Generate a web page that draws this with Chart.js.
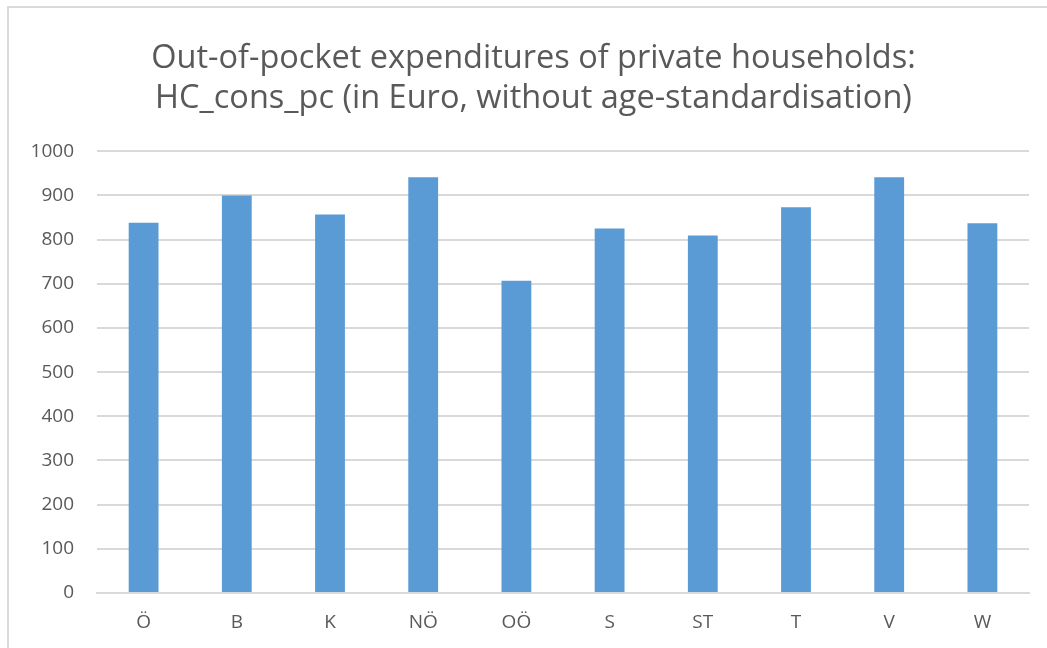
<!DOCTYPE html>
<html>
<head>
<meta charset="utf-8">
<script src="https://cdn.jsdelivr.net/npm/chart.js@4"></script>
<style>
  html, body { margin: 0; padding: 0; background: #fff; overflow: hidden; }
  #wrap { position: relative; width: 1047px; height: 648px; }
  #frame {
    position: absolute; left: 7px; top: 6px; width: 1100px; height: 700px;
    border-left: 2px solid #d9d9d9; border-top: 2px solid #d9d9d9;
  }
  canvas { position: absolute; left: 0; top: 0; }
</style>
</head>
<body>
<div id="wrap">
  <div id="frame"></div>
  <canvas id="chart" width="1047" height="648"></canvas>
</div>
<script>
const titleLines = [
  "Out-of-pocket expenditures of private households:",
  "HC_cons_pc (in Euro, without age-standardisation)",
];
const regions = ["Ö", "B", "K", "NÖ", "OÖ", "S", "ST", "T", "V", "W"];
const spending = [838, 900, 857, 941, 707, 825, 809, 873, 941, 837];
const yTicks = [0, 100, 200, 300, 400, 500, 600, 700, 800, 900, 1000];

const fontFamily = "'Open Sans', 'DejaVu Sans', sans-serif";
const textColor = "#595959";

// title sits a bit right of the canvas centre in the original
const nudgeTitle = {
  id: "nudgeTitle",
  afterLayout(chart) {
    if (chart.titleBlock) chart.titleBlock.left += 20;
  },
};

new Chart(document.getElementById("chart"), {
  type: "bar",
  plugins: [nudgeTitle],
  data: {
    labels: regions,
    datasets: [{
      label: "HC_cons_pc",
      data: spending,
      backgroundColor: "#5b9bd5",
      borderWidth: 0,
      barPercentage: 0.32,
      categoryPercentage: 1,
    }],
  },
  options: {
    responsive: false,
    animation: false,
    layout: { padding: { left: 18, right: 18, top: 30, bottom: 0 } },
    plugins: {
      legend: { display: false },
      tooltip: { enabled: false },
      title: {
        display: true,
        text: titleLines,
        color: textColor,
        font: { family: fontFamily, size: 32.5, weight: "normal", lineHeight: 1.25 },
        padding: { top: 8, bottom: 32 },
      },
    },
    scales: {
      x: {
        afterFit: (scale) => { scale.height = 55; },
        grid: { display: false, drawTicks: false },
        border: { display: true, color: "#d9d9d9", width: 2 },
        ticks: { color: textColor, font: { family: fontFamily, size: 19 }, padding: 18 },
      },
      y: {
        min: 0,
        max: 1000,
        afterFit: (scale) => { scale.width = 79; },
        afterBuildTicks: (axis) => { axis.ticks = yTicks.map((v) => ({ value: v })); },
        grid: { color: "#d9d9d9", lineWidth: 2, drawTicks: false },
        border: { display: false },
        ticks: {
          color: textColor,
          font: { family: fontFamily, size: 19 },
          padding: 23,
          callback: (v) => String(v),
        },
      },
    },
  },
});
</script>
</body>
</html>
